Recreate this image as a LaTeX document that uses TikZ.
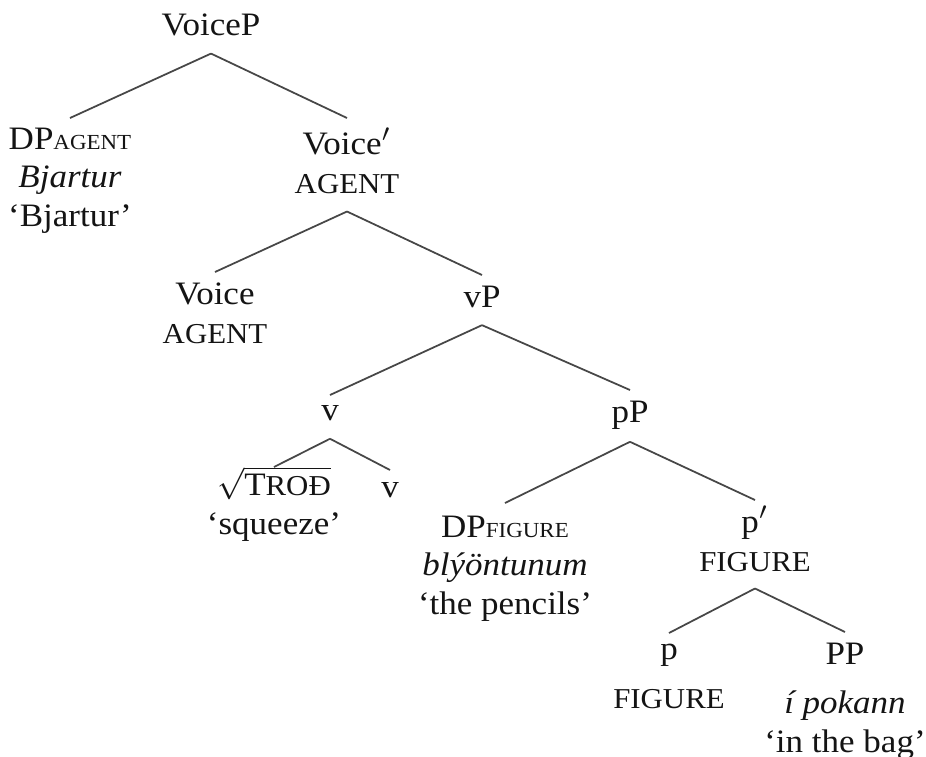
\documentclass[tikz,border=0pt]{standalone}
\usepackage{fontspec}
\setmainfont{Liberation Serif}[FakeStretch=1.07]
\usepackage{tikz}

\newcommand{\feat}[1]{{\fontsize{8.2}{11}\selectfont #1}}
\newcommand{\lowfeat}[1]{{\fontsize{6.1}{11}\selectfont #1}}

\begin{document}
\begin{tikzpicture}[x=0.01cm, y=-0.01cm,
  lbl/.style={align=center, inner sep=0pt, anchor=north, text=black!92,
    font=\fontsize{9.3}{11}\selectfont},
  branch/.style={draw=black!72, line width=0.5pt}]
\useasboundingbox (0,0) rectangle (926,756);

% nodes, placed by the top of their first line
\node[lbl] (voicep) at (211,13) {VoiceP};
\node[lbl] (dpa) at (70,127) {DP\lowfeat{AGENT}\\\textit{Bjartur}\\`Bjartur'};
\node[lbl] (voicebar) at (347,127) {Voice$'$\\\feat{AGENT}};
\node[lbl] (voice) at (215,282) {Voice\\\feat{AGENT}};
\node[lbl] (vp) at (482,285) {vP};
\node[lbl] (littlev) at (330,405) {v};
\node[lbl] (pp) at (630,400) {pP};
\node[lbl] (root) at (274,466) {$\sqrt{\hbox{T\feat{ROĐ}}}$\\`squeeze'};
\node[lbl] (vhead) at (390,482) {v};
\node[lbl] (dpf) at (505,515) {DP\lowfeat{FIGURE}\\\textit{blýöntunum}\\`the pencils'};
\node[lbl] (pbar) at (755,505) {p$'$\\\feat{FIGURE}};
\node[lbl] (phead) at (669,643) {p\\[3pt]\feat{FIGURE}};
\node[lbl] (ppp) at (845,642) {PP\\[3pt]\textit{í pokann}\\`in the bag'};

% branches
\draw[branch] (voicep.south) ++(0,17) -- ([yshift=0.09cm]dpa.north);
\draw[branch] (voicep.south) ++(0,17) -- ([yshift=0.09cm]voicebar.north);
\draw[branch] (voicebar.south) ++(0,17) -- ([yshift=0.1cm]voice.north);
\draw[branch] (voicebar.south) ++(0,17) -- ([yshift=0.1cm]vp.north);
\draw[branch] (vp.south) ++(0,17) -- ([yshift=0.1cm]littlev.north);
\draw[branch] (vp.south) ++(0,17) -- ([yshift=0.1cm]pp.north);
\draw[branch] (littlev.south) ++(0,17) -- ([yshift=-0.01cm]root.north);
\draw[branch] (littlev.south) ++(0,17) -- ([yshift=0.12cm]vhead.north);
\draw[branch] (pp.south) ++(0,12) -- ([yshift=0.12cm]dpf.north);
\draw[branch] (pp.south) ++(0,12) -- ([yshift=0.05cm]pbar.north);
\draw[branch] (pbar.south) ++(0,16) -- ([yshift=0.1cm]phead.north);
\draw[branch] (pbar.south) ++(0,16) -- ([yshift=0.1cm]ppp.north);
\end{tikzpicture}
\end{document}
